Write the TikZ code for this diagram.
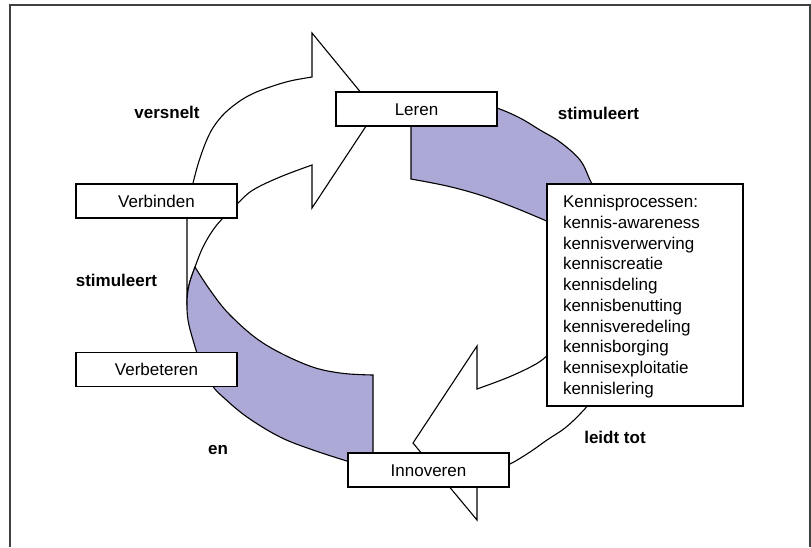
\documentclass[tikz,border=0pt]{standalone}
\usepackage{fontspec}
\setmainfont{Liberation Sans}
\definecolor{bandpurple}{RGB}{173,169,214}
\definecolor{framegray}{RGB}{64,64,64}
\begin{document}
\begin{tikzpicture}[x=1pt,y=-1pt]
\tikzset{
  shapeline/.style={draw=black, line width=1.1pt, line join=miter},
  whitearrow/.style={shapeline, fill=white},
  purpleband/.style={shapeline, fill=bandpurple},
  box/.style={draw=black, fill=white, line width=1.2pt, minimum width=161pt, minimum height=34pt,
    inner sep=0pt, font=\fontsize{17}{20}\selectfont, text height=12.2pt, text depth=0pt},
  kbox/.style={draw=black, fill=white, line width=1.2pt, minimum width=196pt, minimum height=222pt,
    inner xsep=16pt, inner ysep=0pt, text width=164pt, align=left, font=\fontsize{17}{20.7}\selectfont},
  lbl/.style={font=\fontsize{17}{20}\selectfont\bfseries, inner sep=0pt, text height=12.2pt, text depth=0pt},
}
\useasboundingbox (0,0) rectangle (811,547);
\fill[white] (0,0) rectangle (811,547);
\draw[line width=1.5pt, draw=framegray] (10,547) -- (10,5) -- (810,5) -- (810,547);

% top-left white arrow (Verbinden -> Leren)
\draw[whitearrow] (187,305) -- plot[smooth, tension=0.6] coordinates {(187,218) (189,200) (193,183) (200,158) (210,133) (222,116) (237,103) (252,94) (270,87) (290,81) (312,77)}
  -- (312,33) -- (376,111) -- (312,208) -- (312,165)
  -- plot[smooth, tension=0.6] coordinates {(312,165) (280,177) (253,190) (238,203) (223,218) (213,230) (203,247) (195,267) (189,285) (187,303)} -- cycle;

% bottom-right white arrow (Kennisprocessen -> Innoveren)
\draw[whitearrow] (477,477) -- (477,520) -- (413,443) -- (477,346) -- (477,389)
  -- plot[smooth, tension=0.6] coordinates {(477,389) (509,377) (536,364) (549,354) (560,344)}
  -- (600,344) -- (600,380)
  -- plot[smooth, tension=0.6] coordinates {(596,385) (589,403) (580,414) (565,428) (547,440) (530,452) (510,464) (490,472) (477,477)} -- cycle;

% top-right purple band
\draw[purpleband] (411,120) -- (411,179)
  -- plot[smooth, tension=0.6] coordinates {(411,179) (447,186) (480,195) (513,207) (549,222)}
  -- (600,222) -- (600,190)
  -- plot[smooth, tension=0.6] coordinates {(594,188) (590,180) (580,160) (560,142) (540,130) (520,118) (497,108) (470,100) (440,96)}
  -- (411,100) -- cycle;

% bottom-left purple band
\draw[purpleband] (195,267)
  -- plot[smooth, tension=0.6] coordinates {(195,267) (210,290) (230,315) (263,343) (307,365) (340,373) (373,375)}
  -- (373,475) -- (352,475)
  -- plot[smooth, tension=0.6] coordinates {(350,462) (313,450) (280,437) (247,417) (223,397) (212,385) (201,364) (193,340) (188,320) (187,302) (189,285) (195,267)} -- cycle;

% boxes
\node[box] (leren) at (416.5,109) {Leren};
\node[box] (verbinden) at (156.5,201) {Verbinden};
\node[box] (verbeteren) at (156.5,369.5) {Verbeteren};
\node[box] (innoveren) at (428.5,470) {Innoveren};
\node[kbox] (kennis) at (645,295) {\rule{0pt}{15.5pt}Kennisprocessen:\\
kennis-awareness\\
kennisverwerving\\
kenniscreatie\\
kennisdeling\\
kennisbenutting\\
kennisveredeling\\
kennisborging\\
kennisexploitatie\\
kennislering};

% labels
\node[lbl] (versnelt) at (167,112) {versnelt};
\node[lbl] (stimR) at (598.5,113) {stimuleert};
\node[lbl] (stimL) at (116.5,280) {stimuleert};
\node[lbl] (en) at (218,448) {en};
\node[lbl] (leidt) at (615,437) {leidt tot};
\end{tikzpicture}
\end{document}
